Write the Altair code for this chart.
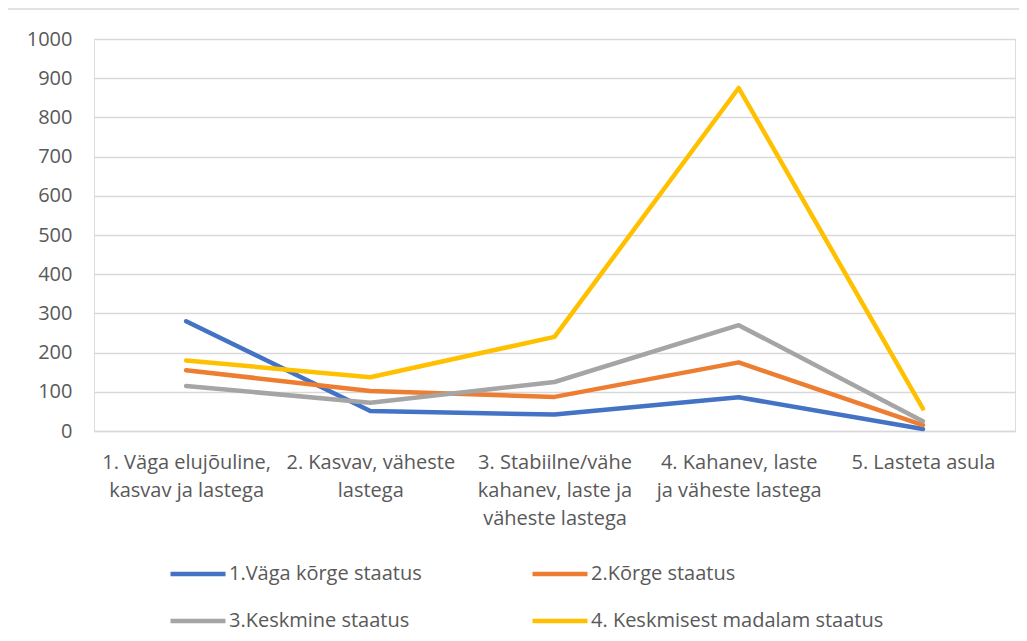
import altair as alt
import pandas as pd

categories = [
    "1. Väga elujõuline,\nkasvav ja lastega",
    "2. Kasvav, väheste\nlastega",
    "3. Stabiilne/vähe\nkahanev, laste ja\nväheste lastega",
    "4. Kahanev, laste\nja väheste lastega",
    "5. Lasteta asula",
]
series_names = [
    "1.Väga kõrge staatus",
    "2.Kõrge staatus",
    "3.Keskmine staatus",
    "4. Keskmisest madalam staatus",
]
s1 = [280, 51, 42, 86, 5]
s2 = [155, 102, 87, 175, 15]
s3 = [115, 72, 125, 270, 25]
s4 = [180, 137, 240, 875, 57]
colors = ["#4472C4", "#ED7D31", "#A5A5A5", "#FFC000"]
y_ticks = list(range(0, 1001, 100))

rows = []
for name, vals in zip(series_names, [s1, s2, s3, s4]):
    for c, v in zip(categories, vals):
        rows.append({"cat": c, "series": name, "value": v})
df = pd.DataFrame(rows)

FONT = "Open Sans"
TXT = "#595959"
W, H = 921, 392

lines = alt.Chart(df).mark_line(strokeWidth=4.5, strokeCap="round", strokeJoin="round").encode(
    x=alt.X("cat:N", sort=categories, title=None,
            axis=alt.Axis(labelAngle=0, labelExpr="split(datum.label, '\\n')",
                          labelFont=FONT, labelFontSize=20, labelColor=TXT,
                          labelLineHeight=28, labelPadding=21, ticks=False,
                          domainColor="#D9D9D9", domainWidth=1.5, labelBaseline="top")),
    y=alt.Y("value:Q", scale=alt.Scale(domain=[0, 1000], nice=False), title=None,
            axis=alt.Axis(values=y_ticks, format="d", labelFont=FONT, labelFontSize=20,
                          labelColor=TXT, ticks=False, domain=False, labelPadding=22,
                          gridColor="#D9D9D9", gridWidth=1.5)),
    color=alt.Color("series:N", sort=series_names,
                    scale=alt.Scale(domain=series_names, range=colors),
                    legend=alt.Legend(title=None, orient="none", legendX=74, legendY=505,
                                      direction="horizontal", columns=2,
                                      columnPadding=101, rowPadding=7,
                                      symbolType="stroke", symbolSize=3025, symbolStrokeWidth=4.5,
                                      labelFont=FONT, labelFontSize=20, labelColor=TXT,
                                      labelOffset=1, labelLimit=400)),
)

frame = alt.Chart(pd.DataFrame({"a": [0]})).mark_rect(
    fill="transparent", stroke="#D9D9D9", strokeWidth=1.5, clip=False
).encode(x=alt.value(-87), x2=alt.value(W + 40), y=alt.value(-30), y2=alt.value(H + 400))

chart = alt.layer(frame, lines).properties(
    width=W, height=H, autosize="none",
    padding={"left": 86, "top": 31, "right": 4, "bottom": 201},
).configure_view(stroke=None).configure(background="white")

chart.save("out.html", embed_options={"renderer": "svg", "actions": False})
